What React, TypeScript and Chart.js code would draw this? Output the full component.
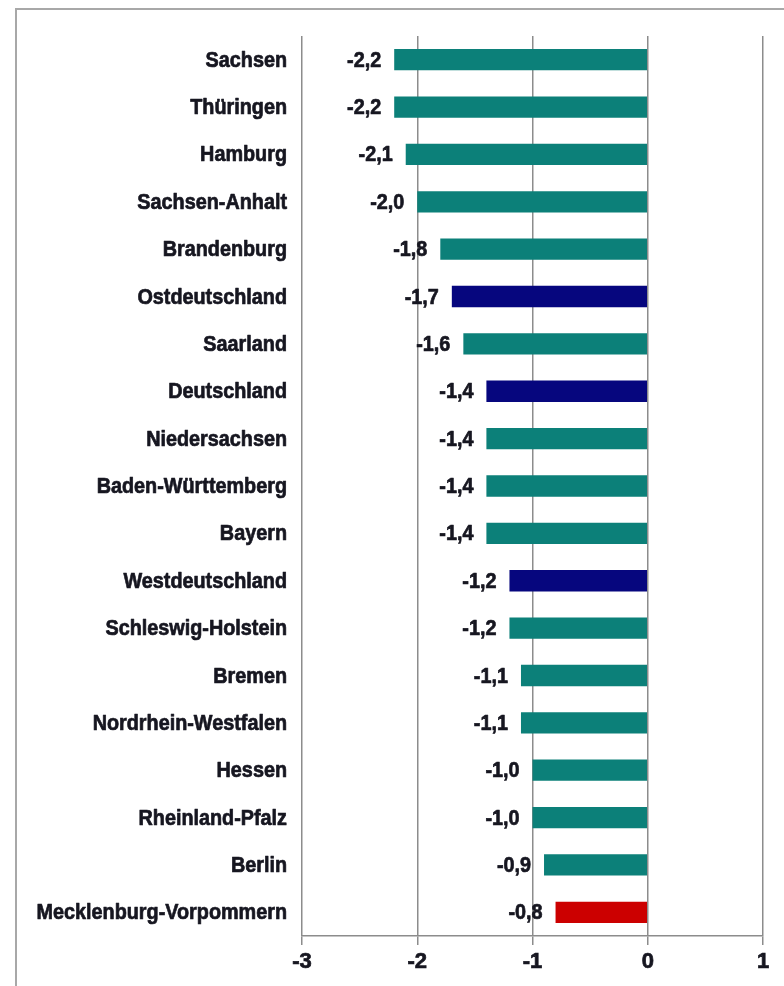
import React, { useEffect, useRef } from "react";
import { Chart, registerables } from "chart.js";

Chart.register(...registerables);

const categories = [
  "Sachsen",
  "Thüringen",
  "Hamburg",
  "Sachsen-Anhalt",
  "Brandenburg",
  "Ostdeutschland",
  "Saarland",
  "Deutschland",
  "Niedersachsen",
  "Baden-Württemberg",
  "Bayern",
  "Westdeutschland",
  "Schleswig-Holstein",
  "Bremen",
  "Nordrhein-Westfalen",
  "Hessen",
  "Rheinland-Pfalz",
  "Berlin",
  "Mecklenburg-Vorpommern",
];

const values = [
  -2.2, -2.2, -2.1, -2.0, -1.8, -1.7, -1.6, -1.4, -1.4, -1.4, -1.4, -1.2, -1.2, -1.1, -1.1, -1.0, -1.0, -0.9,
  -0.8,
];

// group of each row: state, aggregate region, or highlighted state
const groups = [
  "land", "land", "land", "land", "land", "region", "land", "region", "land", "land", "land", "region",
  "land", "land", "land", "land", "land", "land", "highlight",
];

const xTicks = [-3, -2, -1, 0, 1];

const groupColors: Record<string, string> = {
  land: "#0c8079",
  region: "#06067e",
  highlight: "#cc0000",
};

const FONT_FAMILY = "'Liberation Sans', Arial, sans-serif";
const TEXT_COLOR = "#161620";
const GRID_COLOR = "#8c8c8c";
const NARROW = 0.9;

const fmt = (v: number) => v.toFixed(1).replace(".", ",");

function drawNarrow(ctx: CanvasRenderingContext2D, text: string, x: number, y: number) {
  ctx.save();
  ctx.translate(x, y);
  ctx.scale(NARROW, 1);
  ctx.strokeText(text, 0, 0);
  ctx.fillText(text, 0, 0);
  ctx.restore();
}

const labelPlugin = {
  id: "narrowLabels",
  afterDatasetsDraw(chart: any) {
    const ctx = chart.ctx;
    const meta = chart.getDatasetMeta(0);
    const yScale = chart.scales.y;
    const xScale = chart.scales.x;
    ctx.save();
    ctx.font = `bold 22px ${FONT_FAMILY}`;
    ctx.fillStyle = TEXT_COLOR;
    ctx.strokeStyle = TEXT_COLOR;
    ctx.lineWidth = 0.7;
    ctx.lineJoin = "round";
    ctx.textAlign = "right";
    ctx.textBaseline = "middle";
    categories.forEach((c, i) => {
      const y = yScale.getPixelForTick(i);
      drawNarrow(ctx, c, yScale.right - 15, y + 1);
    });
    meta.data.forEach((bar: any, i: number) => {
      const v = values[i];
      const x = xScale.getPixelForValue(v);
      drawNarrow(ctx, fmt(v), x - 13, bar.y + 1);
    });
    ctx.restore();
  },
};

export default function App() {
  const canvasRef = useRef<HTMLCanvasElement | null>(null);

  useEffect(() => {
    const canvas = canvasRef.current;
    if (!canvas) return;
    const chart = new Chart(canvas, {
      type: "bar",
      data: {
        labels: categories,
        datasets: [
          {
            data: values,
            backgroundColor: groups.map((g) => groupColors[g]),
            borderWidth: 0,
            barPercentage: 0.45,
            categoryPercentage: 1,
          },
        ],
      },
      options: {
        indexAxis: "y",
        responsive: false,
        animation: false,
        devicePixelRatio: 1,
        layout: { padding: { top: 36, right: 21, left: 0, bottom: 0 } },
        plugins: {
          legend: { display: false },
          tooltip: { enabled: false },
        },
        scales: {
          x: {
            type: "linear",
            min: -3,
            max: 1,
            afterBuildTicks: (scale: any) => {
              scale.ticks = xTicks.map((v) => ({ value: v }));
            },
            afterFit: (scale: any) => {
              scale.height = 50;
            },
            ticks: {
              callback: (v: any) => String(v),
              color: TEXT_COLOR,
              font: { family: FONT_FAMILY, size: 22, weight: "bold" },
              textStrokeColor: TEXT_COLOR,
              textStrokeWidth: 0.7,
              padding: 4,
              maxRotation: 0,
            },
            grid: {
              color: GRID_COLOR,
              lineWidth: 1.5,
              drawTicks: true,
              tickLength: 9,
            },
            border: { display: true, color: GRID_COLOR, width: 1.5 },
          },
          y: {
            afterFit: (scale: any) => {
              scale.width = 302;
            },
            ticks: { display: false },
            grid: { display: false },
            border: { display: false },
          },
        },
      },
      plugins: [labelPlugin],
    });
    return () => chart.destroy();
  }, []);

  return (
    <div
      style={{
        position: "fixed",
        left: 0,
        top: 0,
        width: 784,
        height: 986,
        background: "#ffffff",
        overflow: "hidden",
      }}
    >
      <div
        style={{
          position: "absolute",
          left: 15,
          top: 8,
          width: 800,
          height: 1000,
          borderLeft: "2px solid #a8a8a8",
          borderTop: "2px solid #a8a8a8",
        }}
      />
      <canvas ref={canvasRef} width={784} height={986} style={{ position: "absolute", left: 0, top: 0 }} />
    </div>
  );
}
